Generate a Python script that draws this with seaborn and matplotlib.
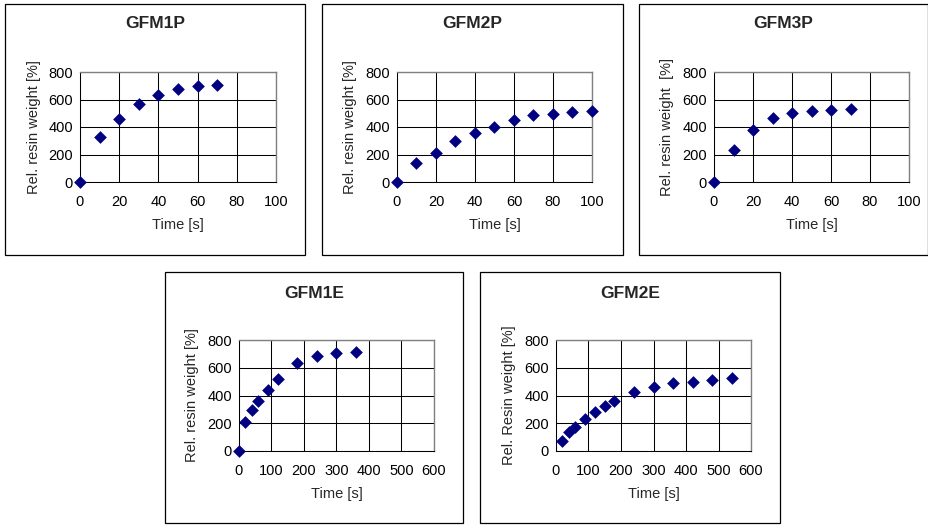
import matplotlib
matplotlib.use("Agg")
import matplotlib.pyplot as plt
import seaborn as sns
import pandas as pd
from matplotlib.patches import Rectangle

# ---------------- data ----------------
titles = ["GFM1P", "GFM2P", "GFM3P", "GFM1E", "GFM2E"]

gfm1p_time = [0, 10, 20, 30, 40, 50, 60, 70]
gfm1p_weight = [0, 330, 460, 570, 635, 675, 700, 705]

gfm2p_time = [0, 10, 20, 30, 40, 50, 60, 70, 80, 90, 100]
gfm2p_weight = [0, 135, 213, 295, 355, 403, 450, 487, 497, 510, 515]

gfm3p_time = [0, 10, 20, 30, 40, 50, 60, 70]
gfm3p_weight = [0, 232, 377, 462, 505, 520, 524, 533]

gfm1e_time = [0, 20, 40, 60, 90, 120, 180, 240, 300, 360]
gfm1e_weight = [0, 212, 295, 358, 437, 520, 631, 682, 703, 711]

gfm2e_time = [20, 40, 60, 90, 120, 150, 180, 240, 300, 360, 420, 480, 540]
gfm2e_weight = [75, 140, 172, 228, 281, 327, 358, 425, 462, 488, 498, 510, 524]

y_labels = ["Rel. resin weight [%]", "Rel. resin weight [%]",
            "Rel. resin weight  [%]", "Rel. resin weight [%]",
            "Rel. Resin weight [%]"]
x_label = "Time [s]"
x_ticks_small = [0, 20, 40, 60, 80, 100]
x_ticks_large = [0, 100, 200, 300, 400, 500, 600]
y_ticks = [0, 200, 400, 600, 800]

series = [
    (gfm1p_time, gfm1p_weight, x_ticks_small),
    (gfm2p_time, gfm2p_weight, x_ticks_small),
    (gfm3p_time, gfm3p_weight, x_ticks_small),
    (gfm1e_time, gfm1e_weight, x_ticks_large),
    (gfm2e_time, gfm2e_weight, x_ticks_large),
]

# ---------------- layout (pixels) ----------------
W, H = 929, 525
# outer boxes: x0, y0, x1, y1
boxes = [(5, 4, 305, 255), (322, 4, 623, 255), (639, 4, 928, 255),
         (165, 272, 463, 523), (480, 272, 780, 523)]
# plot areas: left, top, right, bottom
areas = [(80, 72, 276, 182), (397, 72, 592, 182), (714, 72, 909, 182),
         (239, 340, 434, 451), (556, 340, 751, 451)]
title_y = [23, 23, 23, 293, 293]

sns.set_style("white")
plt.rcParams["font.family"] = ["Liberation Sans", "DejaVu Sans"]

fig = plt.figure(figsize=(W / 100, H / 100), dpi=100)
fig.patch.set_facecolor("white")

navy = "#000080"

for i, (xs, ys, xt) in enumerate(series):
    bx0, by0, bx1, by1 = boxes[i]
    fig.add_artist(Rectangle((bx0 / W, 1 - by1 / H), (bx1 - bx0) / W, (by1 - by0) / H,
                             transform=fig.transFigure, fill=False,
                             edgecolor="black", linewidth=0.9))
    l, t, r, b = areas[i]
    ax = fig.add_axes([l / W, 1 - b / H, (r - l) / W, (b - t) / H])
    df = pd.DataFrame({"time": xs, "weight": ys})
    sns.scatterplot(data=df, x="time", y="weight", marker="D", s=42,
                    color=navy, edgecolor=navy, linewidth=0,
                    clip_on=False, zorder=4, ax=ax)
    ax.set_xlim(xt[0], xt[-1])
    ax.set_ylim(y_ticks[0], y_ticks[-1])
    ax.set_xticks(xt)
    ax.set_yticks(y_ticks)
    ax.set_axisbelow(True)
    ax.grid(True, color="black", linewidth=0.75)
    for side in ("left", "bottom"):
        ax.spines[side].set_color("black")
        ax.spines[side].set_linewidth(0.75)
    for side in ("top", "right"):
        ax.spines[side].set_color("#808080")
        ax.spines[side].set_linewidth(1.0)
    ax.tick_params(axis="both", direction="out", length=3, width=0.75,
                   color="black", labelsize=10.5, labelcolor="black")
    ax.tick_params(axis="x", pad=6.5)
    ax.tick_params(axis="y", pad=2)

    ax.set_xlabel(x_label, fontsize=10.5)
    ax.xaxis.set_label_coords(0.5, -43 / (b - t))
    ax.xaxis.label.set_va("center")
    ax.set_ylabel(y_labels[i], fontsize=10.5)
    ax.yaxis.set_label_coords(-46.5 / (r - l), 0.5)
    ax.yaxis.label.set_va("center")

    fig.text((bx0 + bx1) / 2 / W, 1 - title_y[i] / H, titles[i],
             ha="center", va="center", fontsize=12.5, fontweight="bold")

fig.savefig("out.png", dpi=100, facecolor="white")
